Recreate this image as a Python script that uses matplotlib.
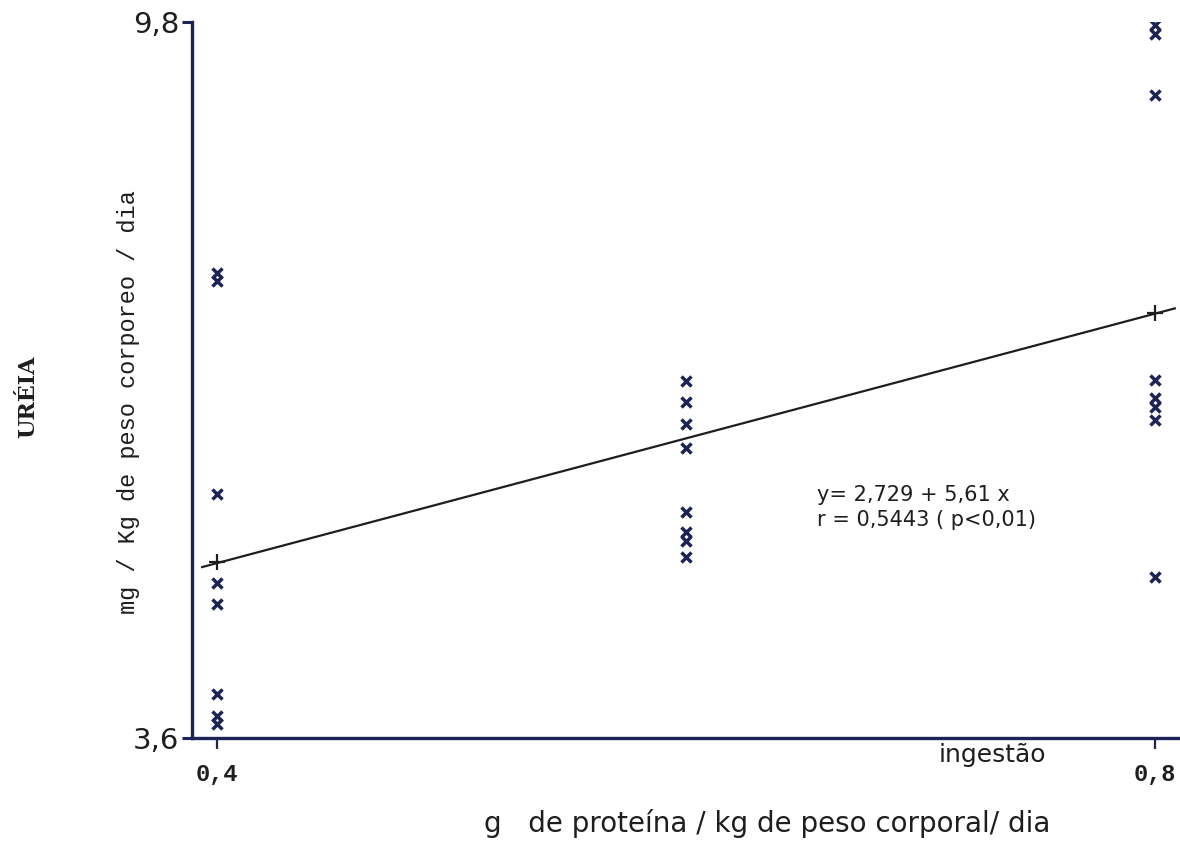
import matplotlib
matplotlib.use('Agg')
import matplotlib.pyplot as plt


# urea excretion, grouped by protein intake
intake = [0.4, 0.6, 0.8]
urea_04 = [7.63, 7.56, 5.71, 4.94, 4.76, 3.98, 3.79, 3.72]
urea_06 = [6.69, 6.51, 6.32, 6.11, 5.56, 5.38, 5.31, 5.17]
urea_08 = [9.77, 9.70, 9.17, 6.70, 6.54, 6.47, 6.35, 4.99]

# regression line as drawn (ends and the two "+" marks)
line_x = [0.3936, 0.8085]
line_y = [5.08, 7.32]
cross_x = [0.4, 0.8]
cross_y = [5.12, 7.28]

x_ticks = [0.4, 0.8]
x_tick_labels = ['0,4', '0,8']
y_ticks = [3.6, 9.8]
y_tick_labels = ['3,6', '9,8']

navy = '#1c2456'
ink = '#1e1e1e'

fig = plt.figure(figsize=(11.8, 8.42), dpi=100)
ax = fig.add_axes([192 / 1180, 104 / 842, 988 / 1180, 716 / 842])

for xv, group in zip(intake, [urea_04, urea_06, urea_08]):
    ax.plot([xv] * len(group), group, linestyle='none', marker='x',
            markersize=6.5, markeredgewidth=2.5, color=navy)

ax.plot(line_x, line_y, color=ink, linewidth=1.6)
ax.plot(cross_x, cross_y, linestyle='none', marker='+', markersize=12,
        markeredgewidth=1.6, color=ink)

ax.set_xlim(0.3893, 0.8107)
ax.set_ylim(3.6, 9.8)

ax.spines['top'].set_visible(False)
ax.spines['right'].set_visible(False)
for side in ['left', 'bottom']:
    ax.spines[side].set_linewidth(2.4)
    ax.spines[side].set_color(navy)
ax.spines['left'].set_bounds(3.6, 9.8)

ax.set_yticks(y_ticks)
ax.set_yticklabels(y_tick_labels, fontsize=21, family='DejaVu Sans', color=ink)
ax.tick_params(axis='y', direction='out', length=7, width=2.2, color=navy, pad=2)

ax.set_xticks(x_ticks)
ax.set_xticklabels(x_tick_labels, fontsize=17, family='Liberation Mono',
                   fontweight='bold', color=ink)
ax.tick_params(axis='x', direction='out', length=8, width=1.6, color=navy, pad=10)

# equation of the fit
ax.text(0.6559, 5.70, 'y= 2,729 + 5,61 x', fontsize=15, family='DejaVu Sans',
        color=ink, ha='left', va='center')
ax.text(0.6559, 5.49, 'r = 0,5443 ( p<0,01)', fontsize=15, family='DejaVu Sans',
        color=ink, ha='left', va='center')

# texts placed in figure pixels (measured from the top)
fig.text(992 / 1180, 1 - 755 / 842, 'ingestão', fontsize=18,
         family='DejaVu Sans', color=ink, ha='center', va='center')
fig.text(28 / 1180, 1 - 397 / 842, 'URÉIA', rotation=90, fontsize=16,
         family='DejaVu Serif', fontweight='bold', color=ink,
         ha='center', va='center')
fig.text(128 / 1180, 1 - 402 / 842, 'mg / Kg de peso corporeo / dia', rotation=90,
         fontsize=17, family='Liberation Mono', color=ink,
         ha='center', va='center')
fig.text(767 / 1180, 1 - 823 / 842, 'g   de proteína / kg de peso corporal/ dia',
         fontsize=20, family='DejaVu Sans', color=ink, ha='center', va='center')

fig.savefig('out.png', dpi=100, facecolor='white')
